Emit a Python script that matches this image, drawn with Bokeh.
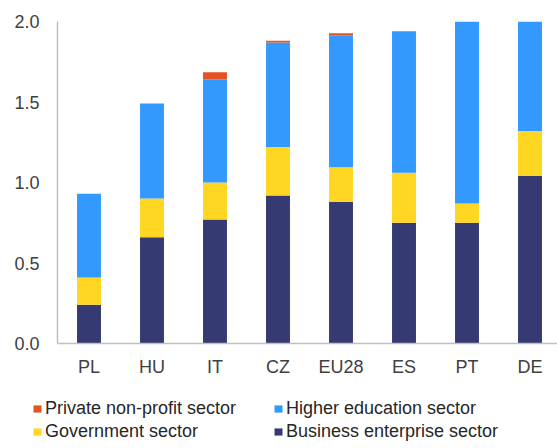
from bokeh.plotting import figure
from bokeh.layouts import column
from bokeh.models import ColumnDataSource, Range1d, FixedTicker, Legend, LegendItem, NumeralTickFormatter
from bokeh.embed import file_html
from bokeh.resources import INLINE

categories = ["PL", "HU", "IT", "CZ", "EU28", "ES", "PT", "DE"]
business = [0.24, 0.66, 0.77, 0.92, 0.88, 0.75, 0.75, 1.04]
government = [0.17, 0.24, 0.23, 0.30, 0.215, 0.31, 0.12, 0.28]
higher_edu = [0.52, 0.59, 0.64, 0.65, 0.82, 0.88, 1.13, 0.68]
private_np = [0.0, 0.0, 0.045, 0.01, 0.012, 0.0, 0.0, 0.0]
y_ticks = [0.0, 0.5, 1.0, 1.5, 2.0]

series = ["business", "government", "higher", "private"]
names = {"business": "Business enterprise sector", "government": "Government sector",
         "higher": "Higher education sector", "private": "Private non-profit sector"}
colors = {"business": "#353B72", "government": "#FFD723", "higher": "#3399FF", "private": "#E55320"}

src = ColumnDataSource(dict(x=list(range(len(categories))), business=business,
                            government=government, higher=higher_edu, private=private_np))

FONT = "Liberation Sans"
p = figure(width=557, height=380, output_backend="svg", toolbar_location=None,
           x_range=Range1d(-0.5, -0.5 + 500 / 63), y_range=Range1d(0, 2.0),
           min_border_left=57, min_border_right=0, min_border_top=21, min_border_bottom=37)
p.outline_line_color = None
p.grid.visible = False
p.frame_align = False

rs = p.vbar_stack(series, x="x", width=0.38, source=src,
                  color=[colors[s] for s in series], line_color=None)

for ax in (p.xaxis[0], p.yaxis[0]):
    ax.axis_line_color = "#BFBFBF"
    ax.axis_line_width = 1.5
    ax.major_tick_line_color = None
    ax.minor_tick_line_color = None
    ax.major_tick_out = 0
    ax.major_tick_in = 0
    ax.minor_tick_out = 0
    ax.major_label_text_font = FONT
    ax.major_label_text_font_size = "18px"
    ax.major_label_text_color = "#404040"

p.xaxis.ticker = FixedTicker(ticks=list(range(len(categories))))
p.xaxis.major_label_overrides = {i: c for i, c in enumerate(categories)}
p.xaxis.major_label_standoff = 13
p.yaxis.ticker = FixedTicker(ticks=y_ticks)
p.yaxis.formatter = NumeralTickFormatter(format="0.0")
p.yaxis.major_label_standoff = 18

# legend panel (column-major order: first column, then second column)
lg = figure(width=557, height=68, output_backend="svg", toolbar_location=None,
            x_range=Range1d(0, 1), y_range=Range1d(0, 1), x_axis_type=None, y_axis_type=None,
            min_border=0)
lg.outline_line_color = None
lg.grid.visible = False
lg.frame_align = False
order = ["private", "government", "higher", "business"]
items = []
for s in order:
    r = lg.vbar(x=[5], top=[1], width=0.1, color=colors[s], line_color=None)
    items.append(LegendItem(label=names[s], renderers=[r]))
legend = Legend(items=items, location=(32, 6), ncols=2, border_line_color=None,
                background_fill_alpha=0, glyph_width=10, glyph_height=9, label_standoff=3,
                label_width=226, spacing=2, padding=0, margin=0, label_text_font=FONT,
                label_text_font_size="18px", label_text_color="#262626")
lg.add_layout(legend, "center")

open("out.html", "w").write(file_html(column(p, lg), INLINE))
